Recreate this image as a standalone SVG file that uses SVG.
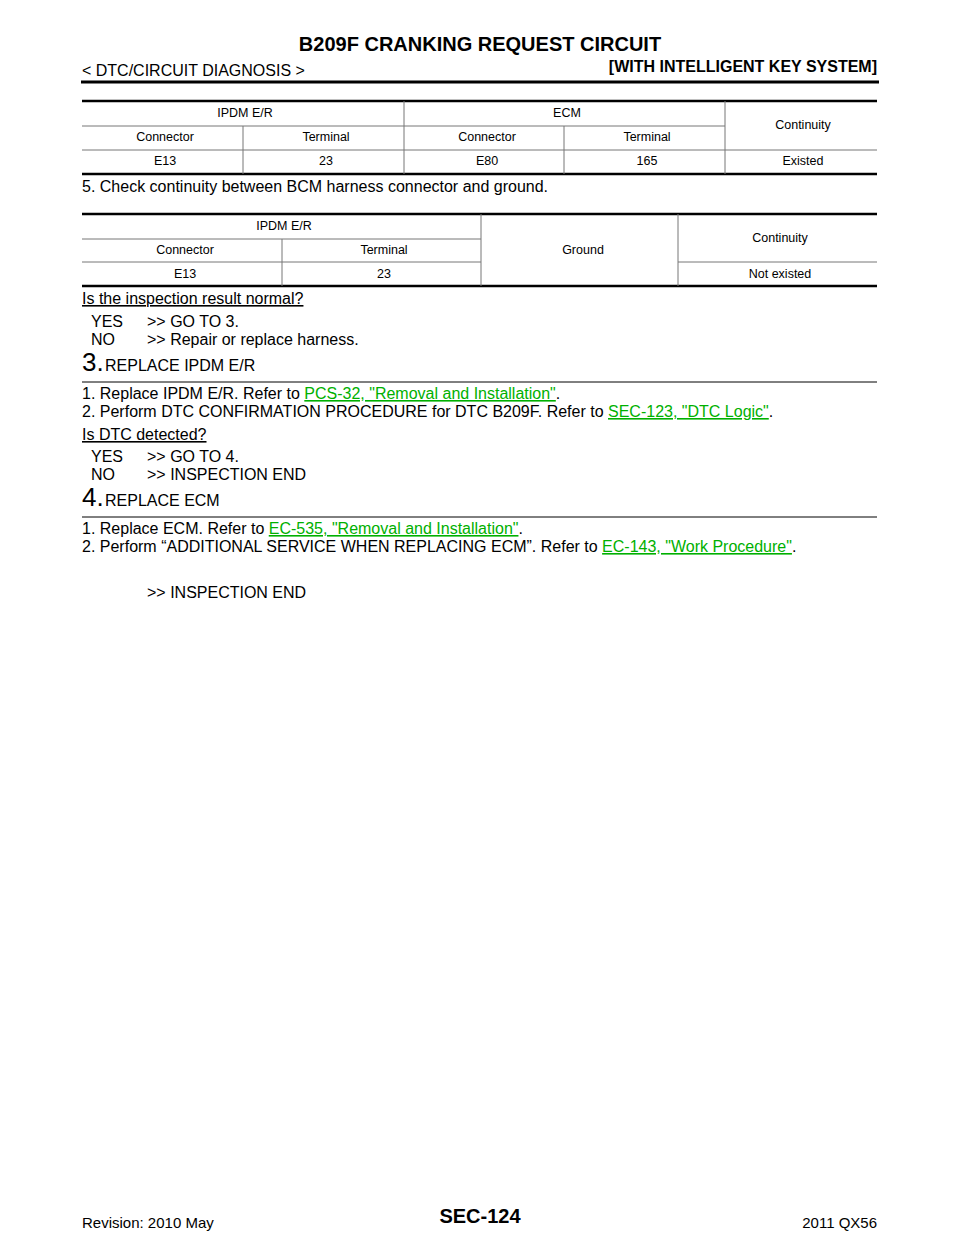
<svg xmlns="http://www.w3.org/2000/svg" width="960" height="1242" viewBox="0 0 960 1242">
<style>
text{font-family:"Liberation Sans",Arial,sans-serif;fill:#000}
.t{font-size:12.5px;text-anchor:middle}
.b{font-size:16px}
.h{font-size:16px}
.n{font-size:26px}
.l{fill:#00b000;text-decoration:underline}
.thin{stroke:#777;stroke-width:1}
.thick{stroke:#000;stroke-width:2.5}
</style>
<rect width="960" height="1242" fill="#fff"/>
<text x="480" y="51" font-size="20" font-weight="bold" text-anchor="middle">B209F CRANKING REQUEST CIRCUIT</text>
<text x="82" y="76" font-size="16">&lt; DTC/CIRCUIT DIAGNOSIS &gt;</text>
<text x="877" y="72" font-size="16" font-weight="bold" text-anchor="end">[WITH INTELLIGENT KEY SYSTEM]</text>
<line x1="81" y1="82" x2="879" y2="82" stroke="#000" stroke-width="3"/>
<g id="table1">
<line class="thick" x1="82" y1="101" x2="877" y2="101"/>
<line class="thin" x1="82" y1="126" x2="725" y2="126"/>
<line class="thin" x1="82" y1="150" x2="877" y2="150"/>
<line class="thick" x1="82" y1="174" x2="877" y2="174"/>
<line class="thin" x1="404" y1="101" x2="404" y2="174"/>
<line class="thin" x1="725" y1="101" x2="725" y2="174"/>
<line class="thin" x1="243" y1="126" x2="243" y2="174"/>
<line class="thin" x1="564" y1="126" x2="564" y2="174"/>
<text class="t" x="245" y="117">IPDM E/R</text>
<text class="t" x="567" y="117">ECM</text>
<text class="t" x="803" y="129">Continuity</text>
<text class="t" x="165" y="141">Connector</text>
<text class="t" x="326" y="141">Terminal</text>
<text class="t" x="487" y="141">Connector</text>
<text class="t" x="647" y="141">Terminal</text>
<text class="t" x="165" y="165">E13</text>
<text class="t" x="326" y="165">23</text>
<text class="t" x="487" y="165">E80</text>
<text class="t" x="647" y="165">165</text>
<text class="t" x="803" y="165">Existed</text>
</g>
<text class="b" x="82" y="192">5.   Check continuity between BCM harness connector and ground.</text>
<g id="table2">
<line class="thick" x1="82" y1="214" x2="877" y2="214"/>
<line class="thin" x1="82" y1="239" x2="481" y2="239"/>
<line class="thin" x1="82" y1="262" x2="481" y2="262"/>
<line class="thin" x1="678" y1="262" x2="877" y2="262"/>
<line class="thick" x1="82" y1="286" x2="877" y2="286"/>
<line class="thin" x1="481" y1="214" x2="481" y2="286"/>
<line class="thin" x1="678" y1="214" x2="678" y2="286"/>
<line class="thin" x1="282" y1="239" x2="282" y2="286"/>
<text class="t" x="284" y="230">IPDM E/R</text>
<text class="t" x="583" y="254">Ground</text>
<text class="t" x="780" y="242">Continuity</text>
<text class="t" x="185" y="254">Connector</text>
<text class="t" x="384" y="254">Terminal</text>
<text class="t" x="185" y="278">E13</text>
<text class="t" x="384" y="278">23</text>
<text class="t" x="780" y="278">Not existed</text>
</g>
<text class="b" x="82" y="304" text-decoration="underline">Is the inspection result normal?</text>
<text class="b" x="91" y="327">YES</text><text class="b" x="147" y="327">&gt;&gt; GO TO 3.</text>
<text class="b" x="91" y="345">NO</text><text class="b" x="147" y="345">&gt;&gt; Repair or replace harness.</text>
<text x="82" y="371" font-size="26">3.</text><text class="b" x="105" y="371">REPLACE IPDM E/R</text>
<line x1="82" y1="382" x2="877" y2="382" stroke="#000" stroke-width="1"/>
<text class="b" x="82" y="399">1.   Replace IPDM E/R. Refer to <tspan class="l">PCS-32, "Removal and Installation"</tspan>.</text>
<text class="b" x="82" y="417">2.   Perform DTC CONFIRMATION PROCEDURE for DTC B209F. Refer to <tspan class="l">SEC-123, "DTC Logic"</tspan>.</text>
<text class="b" x="82" y="440" text-decoration="underline">Is DTC detected?</text>
<text class="b" x="91" y="462">YES</text><text class="b" x="147" y="462">&gt;&gt; GO TO 4.</text>
<text class="b" x="91" y="480">NO</text><text class="b" x="147" y="480">&gt;&gt; INSPECTION END</text>
<text x="82" y="506" font-size="26">4.</text><text class="b" x="105" y="506">REPLACE ECM</text>
<line x1="82" y1="517" x2="877" y2="517" stroke="#000" stroke-width="1"/>
<text class="b" x="82" y="534">1.   Replace ECM. Refer to <tspan class="l">EC-535, "Removal and Installation"</tspan>.</text>
<text class="b" x="82" y="552">2.   Perform “ADDITIONAL SERVICE WHEN REPLACING ECM”. Refer to <tspan class="l">EC-143, "Work Procedure"</tspan>.</text>
<text class="b" x="147" y="598">&gt;&gt; INSPECTION END</text>
<text x="480" y="1223" font-size="20" font-weight="bold" text-anchor="middle">SEC-124</text>
<text x="82" y="1228" font-size="15" fill="#333">Revision: 2010 May</text>
<text x="877" y="1228" font-size="15" text-anchor="end" fill="#333">2011 QX56</text>
</svg>
